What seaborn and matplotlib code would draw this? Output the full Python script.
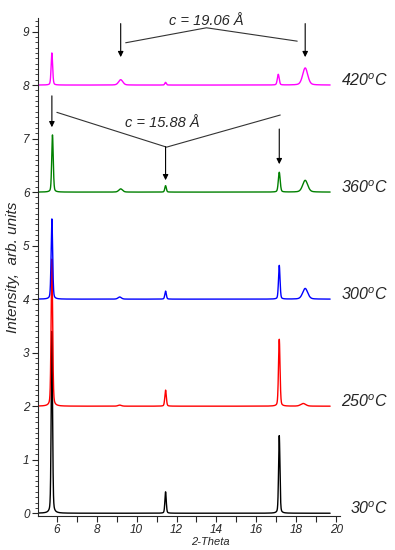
import numpy as np
import pandas as pd
import matplotlib
matplotlib.use("Agg")
import matplotlib.pyplot as plt
import matplotlib.transforms as mtransforms
import seaborn as sns
from matplotlib.ticker import MultipleLocator

# peak tables: position (2-theta), height, FWHM
temps = ["30$^o$C", "250$^o$C", "300$^o$C", "360$^o$C", "420$^o$C"]
offsets = [0, 2, 4, 6, 8]
colors = ["black", "#ff0000", "#0000ff", "#008000", "#ff00ff"]

peak_pos = [
    [5.75, 11.45, 17.15],
    [5.75, 9.15, 11.45, 17.15, 18.35],
    [5.75, 9.15, 11.45, 17.15, 18.45],
    [5.78, 9.2, 11.45, 17.15, 18.45],
    [5.75, 9.2, 11.45, 17.1, 18.45],
]
peak_height = [
    [3.4, 0.4, 1.45],
    [2.75, 0.02, 0.3, 1.25, 0.05],
    [1.5, 0.04, 0.15, 0.63, 0.2],
    [1.07, 0.06, 0.12, 0.37, 0.22],
    [0.6, 0.1, 0.05, 0.2, 0.32],
]
peak_fwhm = [
    [0.08, 0.08, 0.08],
    [0.09, 0.2, 0.09, 0.09, 0.3],
    [0.09, 0.2, 0.09, 0.09, 0.3],
    [0.09, 0.22, 0.09, 0.11, 0.3],
    [0.09, 0.25, 0.09, 0.11, 0.3],
]

two_theta = np.linspace(5.05, 19.7, 3000)


def profile(pos, height, fwhm):
    y = np.zeros_like(two_theta)
    for p, h, w in zip(pos, height, fwhm):
        hw = w / 2
        lor = 1 / (1 + ((two_theta - p) / hw) ** 2)
        gau = np.exp(-np.log(2) * ((two_theta - p) / hw) ** 2)
        y += h * (0.3 * lor + 0.7 * gau)
    return y


frames = []
for t, off, pos, h, w in zip(temps, offsets, peak_pos, peak_height, peak_fwhm):
    frames.append(pd.DataFrame({"x": two_theta, "y": profile(pos, h, w) + off, "temp": t}))
df = pd.concat(frames, ignore_index=True)

sns.set_theme(style="ticks")
plt.rcParams["font.family"] = ["Liberation Sans", "DejaVu Sans"]
plt.rcParams["mathtext.fontset"] = "custom"
plt.rcParams["mathtext.it"] = "Liberation Sans:italic"
plt.rcParams["mathtext.rm"] = "Liberation Sans:italic"

fig = plt.figure(figsize=(3.95, 5.5), dpi=100)
ax = fig.add_axes([0.096, 0.062, 0.765, 0.905])

sns.lineplot(data=df, x="x", y="y", hue="temp", hue_order=temps,
             palette=dict(zip(temps, colors)), estimator=None, sort=False,
             linewidth=1.0, legend=False, ax=ax)

ax.set_xlim(5.05, 20.2)
ax.set_ylim(-0.05, 9.25)
ax.xaxis.set_major_locator(MultipleLocator(2))
ax.xaxis.set_minor_locator(MultipleLocator(1))
ax.yaxis.set_major_locator(MultipleLocator(1))
ax.yaxis.set_minor_locator(MultipleLocator(0.1))
ax.tick_params(which="major", direction="out", length=4, width=0.8, labelsize=8.5, pad=2)
ax.tick_params(axis="x", which="minor", direction="out", length=4, width=0.8)
ax.tick_params(axis="y", which="minor", direction="out", length=2, width=0.6)
for lab in ax.get_xticklabels() + ax.get_yticklabels():
    lab.set_fontstyle("italic")
sns.despine(ax=ax)
ax.spines["left"].set_linewidth(0.8)
ax.spines["bottom"].set_linewidth(0.8)

ax.set_xlabel("2-Theta", fontsize=8, style="italic")
ax.xaxis.set_label_coords(0.57, -0.043)
ax.set_ylabel("Intensity,  arb. units", fontsize=11, style="italic", labelpad=2)

# temperature labels, right-aligned outside the axes
label_tr = mtransforms.blended_transform_factory(fig.transFigure, ax.transData)
for t, off in zip(temps, offsets):
    ax.text(0.982, off + 0.08, t, fontsize=11.5, style="italic", va="center",
            ha="right", transform=label_tr, clip_on=False)

# annotation brackets
line_kw = dict(color="#333333", lw=0.8)
ax.plot([9.45, 13.5, 18.05], [8.79, 9.07, 8.82], **line_kw)
ax.plot([6.0, 11.5, 17.2], [7.49, 6.84, 7.44], **line_kw)
arrow_kw = dict(arrowstyle="-|>", color="black", lw=0.8, mutation_scale=8)
for x0, y0, y1 in [(9.2, 9.2, 8.47), (18.45, 9.2, 8.47),
                   (5.75, 7.85, 7.16), (11.45, 6.9, 6.17), (17.15, 7.23, 6.47)]:
    ax.annotate("", xy=(x0, y1), xytext=(x0, y0), arrowprops=arrow_kw)

ax.text(13.5, 9.2, "c = 19.06 Å", fontsize=10.5, style="italic", ha="center", va="center")
ax.text(11.3, 7.3, "c = 15.88 Å", fontsize=10.5, style="italic", ha="center", va="center")

fig.savefig("out.png", dpi=100)
